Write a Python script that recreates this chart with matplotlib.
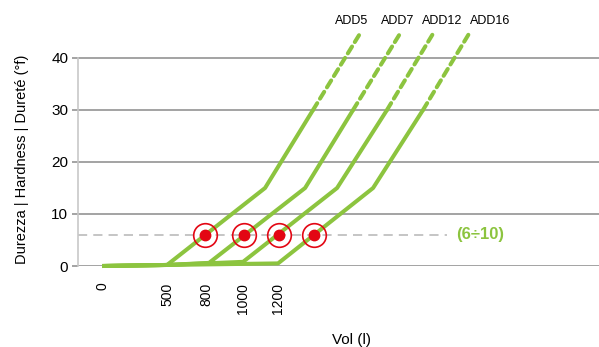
#!/usr/bin/env python3
"""Hardness vs volume chart for ADD softener models."""

import matplotlib.pyplot as plt

plt.rcParams["font.family"] = ["Liberation Sans", "DejaVu Sans"]

GREEN = "#8cc43f"
RED = "#e30613"
GRID = "#a3a3a3"

# x in chart units (litre-like scale of the drawing), y in °f
MODELS = ["ADD5", "ADD7", "ADD12", "ADD16"]
SOLID_X = [
    [0, 500, 1254, 1623],
    [0, 500, 823, 1562, 1931],
    [0, 500, 1085, 1808, 2192],
    [0, 500, 1354, 2085, 2469],
]
SOLID_Y = [
    [0, 0.2, 15, 30],
    [0, 0.2, 0.6, 15, 30],
    [0, 0.2, 0.8, 15, 30],
    [0, 0.2, 0.5, 15, 30],
]
DASH_X = [[1623, 1992], [1931, 2300], [2192, 2554], [2469, 2831]]
DASH_Y = [[30, 45], [30, 45], [30, 45], [30, 45]]
LABEL_X = [1923, 2277, 2615, 2985]
LABEL_Y = 47.2

TARGET_X = [795, 1095, 1360, 1630]
TARGET_Y = 6
TARGET_TEXT = "(6÷10)"

XTICK_POS = [0, 500, 800, 1085, 1354]
XTICK_LABELS = ["0", "500", "800", "1000", "1200"]
YTICKS = [0, 10, 20, 30, 40]

fig = plt.figure(figsize=(5.99, 3.47), dpi=100)
ax = fig.add_axes([78 / 599, 81 / 347, 521 / 599, 266 / 347])
ax.set_xlim(-185, 3823)
ax.set_ylim(0, 51.15)

for v in YTICKS:
    ax.axhline(v, color=GRID, linewidth=1.4, zorder=1)

# target hardness line
ax.plot([-185, 2654], [TARGET_Y, TARGET_Y], color="#b5b5b5", linewidth=1.1,
        dashes=(6, 4), zorder=1)
ax.text(2723, TARGET_Y, TARGET_TEXT, color=GREEN, fontsize=12, fontweight="bold",
        va="center", ha="left")

for i, name in enumerate(MODELS):
    ax.plot(SOLID_X[i], SOLID_Y[i], color=GREEN, linewidth=2.9, zorder=3,
            solid_capstyle="butt", clip_on=False)
    ax.plot(DASH_X[i], DASH_Y[i], color=GREEN, linewidth=2.9, zorder=3,
            dashes=(2.0, 1.3), dash_capstyle="round", clip_on=False)
    ax.text(LABEL_X[i], LABEL_Y, name, fontsize=9, ha="center", va="center")

ax.plot(TARGET_X, [TARGET_Y] * len(TARGET_X), "o", ms=17, mfc="none",
        mec=RED, mew=1.2, zorder=4)
ax.plot(TARGET_X, [TARGET_Y] * len(TARGET_X), "o", ms=7.5, color=RED, zorder=5)

ax.set_yticks(YTICKS)
ax.set_yticklabels([str(v) for v in YTICKS], fontsize=11)
ax.set_xticks(XTICK_POS)
ax.set_xticklabels(XTICK_LABELS, rotation=90, fontsize=10, va="top")
ax.tick_params(axis="y", length=4, width=1.4, color=GRID, pad=3)
ax.tick_params(axis="x", length=0, pad=12)

for side in ["top", "right", "bottom"]:
    ax.spines[side].set_visible(False)
ax.spines["left"].set_color("#c8c8c8")
ax.spines["left"].set_linewidth(1.2)
ax.spines["left"].set_bounds(0, 40)

ax.set_ylabel("Durezza | Hardness | Dureté (°f)", fontsize=10.5)
ax.yaxis.set_label_coords(-49 / 521, 0.4)
fig.text(351 / 599, 1 - 340 / 347, "Vol (l)", fontsize=11, ha="center", va="center")

fig.savefig("out.png", dpi=100, facecolor="white")
